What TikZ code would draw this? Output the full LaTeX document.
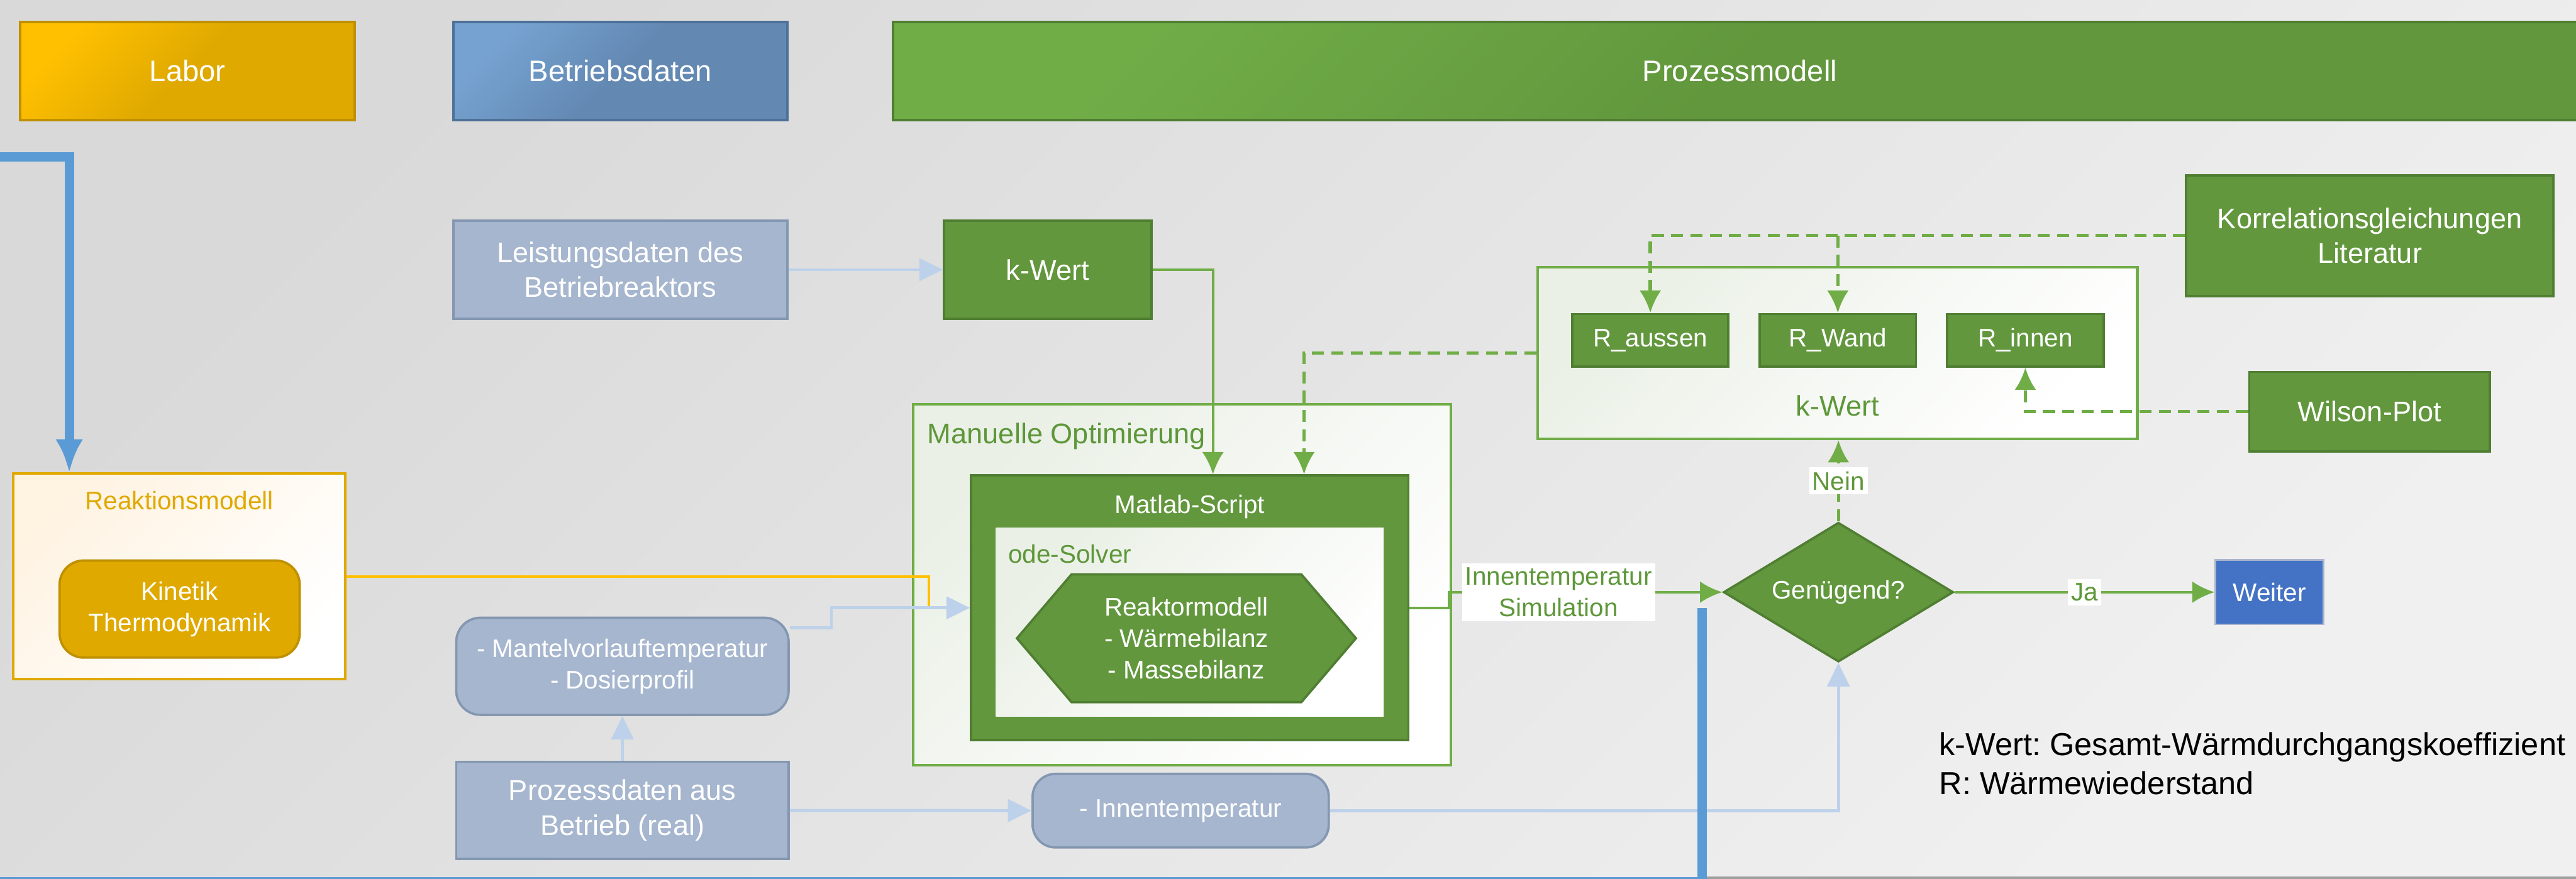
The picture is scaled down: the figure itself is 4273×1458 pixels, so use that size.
\documentclass[tikz,border=0pt]{standalone}
\usepackage{fontspec}
\setmainfont{Liberation Sans}
\usetikzlibrary{arrows.meta, positioning, shapes.geometric, shapes.symbols}

\definecolor{bgA}{HTML}{D9D9D9}
\definecolor{bgB}{HTML}{F0F0F0}
\definecolor{labL}{HTML}{FFC000}
\definecolor{labD}{HTML}{DFA900}
\definecolor{labB}{HTML}{BF9000}
\definecolor{betL}{HTML}{76A2D1}
\definecolor{betD}{HTML}{6389B3}
\definecolor{betB}{HTML}{4E7198}
\definecolor{proL}{HTML}{70AD47}
\definecolor{grnF}{HTML}{62973D}
\definecolor{grnB}{HTML}{507E32}
\definecolor{grnL}{HTML}{70AD47}
\definecolor{grnT}{HTML}{5E973A}
\definecolor{datF}{HTML}{A6B6CE}
\definecolor{datB}{HTML}{8497B0}
\definecolor{arrB}{HTML}{BDD1EA}
\definecolor{fbB}{HTML}{5B9BD5}
\definecolor{weiF}{HTML}{4472C4}
\definecolor{weiB}{HTML}{A9B5CC}
\definecolor{ctT}{HTML}{EAF0E6}
\definecolor{rkT}{HTML}{FFF3E2}

\newcommand{\hdrfont}{\fontsize{14}{17}\selectfont}
\newcommand{\bigfont}{\fontsize{13.4}{16.5}\selectfont}
\newcommand{\smfont}{\fontsize{12}{14.8}\selectfont}
\newcommand{\legfont}{\fontsize{15}{18.2}\selectfont\frenchspacing}

\tikzset{
  hdr/.style n args={3}{draw=#3, line width=1.2pt, top color=#1, bottom color=#2, middle color=#2,
    shading angle=45, minimum height=1.62cm, inner sep=0pt, text=white, font=\hdrfont},
  grn/.style={draw=grnB, fill=grnF, line width=1.1pt, text=white, inner sep=0pt, align=center},
  dat/.style={draw=datB, fill=datF, line width=1.1pt, text=white, inner sep=0pt, align=center},
  cont/.style={draw=grnL, line width=1.2pt, top color=ctT, bottom color=white, shading angle=45},
  inbox/.style={top color=ctT, bottom color=white, shading angle=45},
  clbl/.style={text=grnT, inner sep=0pt},
  lbl/.style={fill=white, text=grnT, font=\smfont, align=center, inner xsep=1.5pt, inner ysep=2pt},
  gline/.style={draw=grnL, line width=1.3pt, >={Latex[length=0.37cm,width=0.36cm]}},
  dline/.style={gline, line width=1.6pt, dash pattern=on 0.2cm off 0.12cm},
  bline/.style={draw=arrB, line width=1.4pt, >={Triangle[length=0.39cm,width=0.37cm]}},
  oline/.style={draw=labL, line width=1.3pt},
  fbline/.style={draw=fbB, line width=4.5pt, >={Latex[length=0.55cm,width=0.46cm]}}
}

\begin{document}
\begin{tikzpicture}[x=0.01cm, y=-0.01cm]
    \shade[top color=bgA, bottom color=bgB, shading angle=45] (0,0) rectangle (4273,1458);
    \useasboundingbox (0,0) rectangle (4273,1458);
    \draw[gray!75, line width=1pt] (2831,1456.5) -- (4273,1456.5);

    % kopfzeile
    \node[hdr={labL}{labD}{labB}, minimum width=5.55cm] (labor) at (311,118) {Labor};
    \node[hdr={betL}{betD}{betB}, minimum width=5.54cm] (betrieb) at (1029,118) {Betriebsdaten};
    \node[hdr={proL}{grnF}{grnB}, minimum width=28.08cm] (prozess) at (2886,118) {Prozessmodell};

    % labor
    \node[draw=labD, line width=1.2pt, top color=rkT, bottom color=white, shading angle=45,
          minimum width=5.51cm, minimum height=3.41cm] (reak) at (297.5,956.5) {};
    \node[text=labD, font=\smfont, anchor=base, inner sep=0pt] (reaklbl) at (297.5,846) {Reaktionsmodell};
    \node[draw=labB, fill=labD, line width=1.1pt, rounded corners=0.4cm, text=white, align=center,
          font=\smfont, minimum width=3.98cm, minimum height=1.61cm] (kinetik) at (298,1010.5) {Kinetik\\Thermodynamik};

    % betriebsdaten
    \node[dat, font=\bigfont, minimum width=5.54cm, minimum height=1.63cm] (leist) at (1029,447.5) {Leistungsdaten des\\Betriebreaktors};
    \node[dat, font=\smfont, rounded corners=0.4cm, minimum width=5.51cm, minimum height=1.61cm] (mantel) at (1032.5,1105.5) {- Mantelvorlauftemperatur\\- Dosierprofil};
    \node[dat, font=\bigfont, minimum width=5.51cm, minimum height=1.61cm] (prozdat) at (1032.5,1344.5) {Prozessdaten aus\\Betrieb (real)};
    \node[dat, font=\smfont, rounded corners=0.38cm, minimum width=4.91cm, minimum height=1.22cm] (innen) at (1958.5,1345) {- Innentemperatur};

    % prozessmodell
    \node[grn, font=\bigfont, minimum width=3.44cm, minimum height=1.63cm] (kwert) at (1738,447.5) {k-Wert};
    \node[cont, minimum width=8.91cm, minimum height=5.98cm] (manopt) at (1960.5,970) {};
    \node[clbl, font=\bigfont, anchor=base west] (manoptlbl) at (1538,736) {Manuelle Optimierung};
    \node[grn, minimum width=7.25cm, minimum height=4.39cm] (matlab) at (1973.5,1008.5) {};
    \node[text=white, font=\smfont, anchor=base, inner sep=0pt] (matlablbl) at (1973.5,852) {Matlab-Script};
    \node[inbox, minimum width=6.43cm, minimum height=3.13cm] (ode) at (1973.5,1032.5) {};
    \node[clbl, font=\smfont, anchor=base west] (odelbl) at (1672,934) {ode-Solver};
    \node[grn, font=\smfont, shape=signal, signal to=east and west, signal pointer angle=99,
          minimum width=5.62cm, minimum height=2.12cm] (hexa) at (1968,1059) {Reaktormodell\\- Wärmebilanz\\- Massebilanz};

    \node[cont, minimum width=9.94cm, minimum height=2.85cm] (kgroup) at (3048,585.5) {};
    \node[clbl, font=\bigfont, anchor=base] (kgrouplbl) at (3048,690) {k-Wert};
    \node[grn, font=\smfont, minimum width=2.59cm, minimum height=0.87cm] (raussen) at (2737.5,564.5) {R\_aussen};
    \node[grn, font=\smfont, minimum width=2.59cm, minimum height=0.87cm, right=0.48cm of raussen] (rwand) {R\_Wand};
    \node[grn, font=\smfont, minimum width=2.59cm, minimum height=0.87cm, right=0.48cm of rwand] (rinnen) {R\_innen};
    \node[grn, font=\bigfont, minimum width=6.09cm, minimum height=2cm] (korr) at (3931,391) {Korrelationsgleichungen\\Literatur};
    \node[grn, font=\bigfont, minimum width=3.99cm, minimum height=1.32cm] (wilson) at (3930.5,683) {Wilson-Plot};

    \node[grn, font=\smfont, shape=diamond, aspect=1.65, minimum width=3.81cm, minimum height=2.31cm] (gen) at (3049.5,982.5) {Genügend?};
    \node[draw=weiB, fill=weiF, line width=0.8pt, text=white, font=\smfont,
          minimum width=1.79cm, minimum height=1.07cm] (weiter) at (3764.5,982.5) {Weiter};

    \node[font=\legfont, anchor=north west, align=left, inner sep=0pt] (legend) at (3216,1215)
        {k-Wert: Gesamt-Wärmdurchgangskoeffizient\\R: Wärmewiederstand};

    % verbindungen
    \draw[oline] (reak.east) -| ([xshift=-0.68cm]matlab.west);
    \draw[bline, ->] (leist) -- (kwert);
    \draw[bline, ->] (prozdat) -- (mantel);
    \draw[bline, ->] (prozdat) -- (innen);
    \draw[bline, ->] ([yshift=0.64cm]mantel.east) -- ++(69,0) |- (matlab.west);
    \draw[bline, ->] (innen.east) -| (gen.south);

    \draw[gline, ->] (kwert.east) -| ([xshift=0.385cm]matlab.north);
    \draw[dline, ->] (kgroup.west) -| ([xshift=1.895cm]matlab.north);
    \draw[dline, ->] (korr.west) -| (raussen.north);
    \draw[dline, ->] (rwand.north |- korr.west) -- (rwand.north);
    \draw[dline, ->] (wilson.west) -| (rinnen.south);
    \draw[gline, ->] (matlab.east) -- ++(66,0) |- node[lbl, pos=0.7] {Innentemperatur\\Simulation} (gen.west);
    \draw[dline, ->] (gen.north) -- (gen.north |- kgroup.south) node[lbl, midway] {Nein};
    \draw[gline, ->] (gen) -- node[lbl] {Ja} (weiter);

    \coordinate (fbstart) at (2823,1009);
    \draw[fbline, ->] (fbstart) -- ++(0,454) -- (-20,1463) -- (-20,260) -| ([xshift=-1.825cm]reak.north);
\end{tikzpicture}
\end{document}
